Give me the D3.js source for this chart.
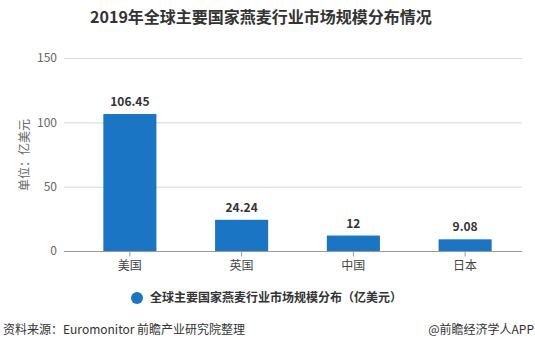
<!DOCTYPE html>
<html><head><meta charset="utf-8">
<script src="https://cdn.jsdelivr.net/npm/d3@7/dist/d3.min.js"></script>
<style>body{margin:0;background:#fff;}svg{display:block;font-family:"Microsoft YaHei","Noto Sans CJK SC",sans-serif;}</style>
</head><body>
<script>
const categories = ["美国","英国","中国","日本"];
const values = [106.45, 24.24, 12, 9.08];
const valueLabels = ["106.45","24.24","12","9.08"];
const yTicks = [0, 50, 100, 150];
const title = "2019年全球主要国家燕麦行业市场规模分布情况";
const seriesName = "全球主要国家燕麦行业市场规模分布（亿美元）";

const W = 535, H = 351;
const svg = d3.select("body").append("svg").attr("width", W).attr("height", H);
const gridX0 = 64, gridX1 = 522;
const x = d3.scaleBand().domain(categories).range([74, 521]).paddingInner(0.525).paddingOuter(0.2625);
const y = d3.scaleLinear().domain([0, 150]).range([251, 58]);

svg.append("text").attr("x", 261).attr("y", 23).attr("text-anchor", "middle")
  .attr("font-size", 16).attr("font-weight", "bold").attr("fill", "#333").text(title);

// grid
svg.append("g").selectAll("line").data(yTicks.filter(d => d > 0)).join("line")
  .attr("x1", gridX0).attr("x2", gridX1).attr("y1", d => y(d) + 0.5).attr("y2", d => y(d) + 0.5)
  .attr("stroke", "#d9d9d9").attr("stroke-width", 1);

// y labels
svg.append("g").selectAll("text").data(yTicks).join("text")
  .attr("x", 57).attr("y", d => y(d)).attr("dy", "0.35em").attr("text-anchor", "end")
  .attr("font-size", 12).attr("fill", "#666").text(d => d);

svg.append("text").attr("transform", "translate(29,155) rotate(-90)").attr("text-anchor", "middle")
  .attr("font-size", 12).attr("fill", "#666").text("单位：亿美元");

// bars
svg.append("g").selectAll("rect").data(values).join("rect")
  .attr("x", (d, i) => x(categories[i])).attr("width", x.bandwidth())
  .attr("y", d => y(d)).attr("height", d => y(0) - y(d)).attr("fill", "#1a75c4");

svg.append("g").selectAll("text").data(values).join("text")
  .attr("x", (d, i) => x(categories[i]) + x.bandwidth() / 2).attr("y", d => y(d) - 8)
  .attr("text-anchor", "middle").attr("font-size", 12).attr("font-weight", "bold").attr("fill", "#333")
  .text((d, i) => valueLabels[i]);

// x axis
const xAxis = svg.append("g").attr("transform", `translate(0,${y(0) + 0.5})`);
xAxis.append("line").attr("x1", gridX0).attr("x2", gridX1).attr("stroke", "#999");
xAxis.selectAll("line.t").data(categories).join("line").attr("class", "t")
  .attr("x1", d => x(d) + x.bandwidth() / 2).attr("x2", d => x(d) + x.bandwidth() / 2)
  .attr("y1", 0).attr("y2", 5).attr("stroke", "#999");
xAxis.selectAll("text").data(categories).join("text")
  .attr("x", d => x(d) + x.bandwidth() / 2).attr("y", 18).attr("text-anchor", "middle")
  .attr("font-size", 12).attr("fill", "#444").text(d => d);

// legend
svg.append("circle").attr("cx", 137).attr("cy", 298).attr("r", 6).attr("fill", "#1a75c4");
svg.append("text").attr("x", 150).attr("y", 298).attr("dy", "0.35em").attr("font-size", 12)
  .attr("font-weight", "bold").attr("fill", "#333").text(seriesName);

// footer
svg.append("text").attr("x", 3).attr("y", 334).attr("font-size", 12).attr("fill", "#333")
  .text("资料来源：Euromonitor 前瞻产业研究院整理");
svg.append("text").attr("x", 534).attr("y", 334).attr("text-anchor", "end").attr("font-size", 12).attr("fill", "#333")
  .text("@前瞻经济学人APP");
</script>
</body></html>
